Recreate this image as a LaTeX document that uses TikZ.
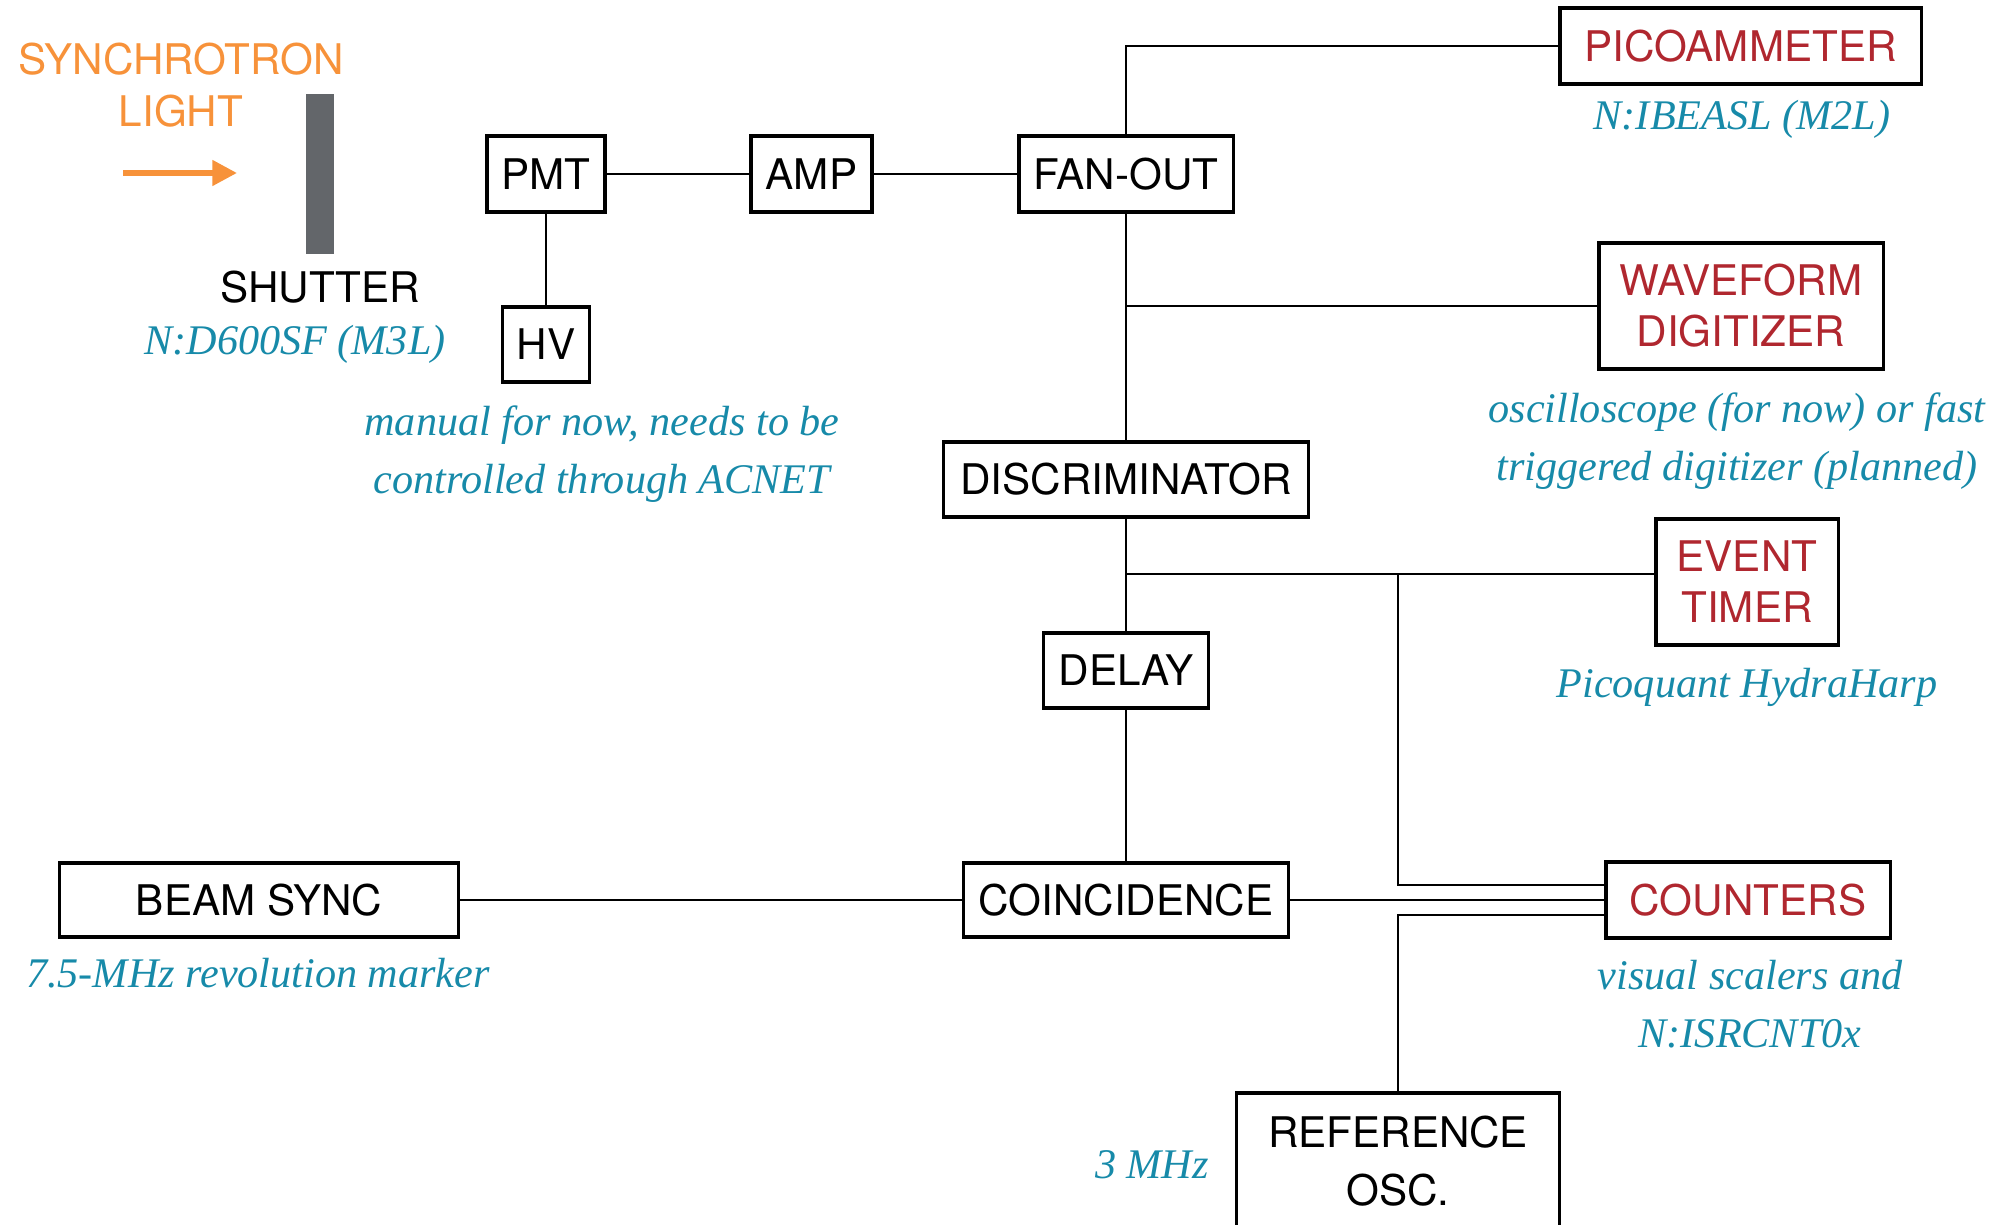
\documentclass[tikz,border=0pt]{standalone}
\usepackage{fontspec}
\setmainfont{TeX Gyre Heros}
\newfontfamily\notefont{Liberation Serif}
\usetikzlibrary{arrows.meta, positioning, calc}
\definecolor{beamorange}{HTML}{F7923A}
\definecolor{devred}{HTML}{B0272F}
\definecolor{noteblue}{HTML}{178AA9}
\definecolor{shuttergray}{HTML}{63666A}

\begin{document}
\begin{tikzpicture}[x=0.01cm, y=-0.01cm, line width=0.7pt,
  blk/.style={draw, line width=0.9pt, inner sep=0pt, align=center, font=\fontsize{12}{14.5}\selectfont},
  dev/.style={blk, text=devred},
  lbl/.style={inner sep=0pt, align=center, font=\fontsize{12}{14.8}\selectfont},
  note/.style={inner sep=0pt, align=center, text=noteblue, font=\notefont\itshape\fontsize{12}{16.5}\selectfont}]
\useasboundingbox (0,0) rectangle (2010,1225);

% light and shutter
\node[lbl, text=beamorange] (sync) at (181,85) {SYNCHROTRON\\LIGHT};
\coordinate (lightin) at (123,173);
\coordinate (lightout) at (237,173);
\draw[beamorange, line width=1.6pt, -{Triangle[length=7pt,width=7pt]}] (lightin) -- (lightout);
\node[fill=shuttergray, inner sep=0pt, minimum width=0.28cm, minimum height=1.6cm] (shutter) at (320,174) {};
\node[lbl, below=0.14cm of shutter] (shutterlbl) {SHUTTER};
\node[note, anchor=base] (shutternote) at (295,355) {N:D600SF (M3L)};

% detector chain
\node[blk, minimum width=1.18cm, minimum height=0.76cm] (pmt) at (546,174) {PMT};
\node[blk, minimum width=0.87cm, minimum height=0.75cm] (hv) at (546,344.5) {HV};
\node[note] (hvnote) at (602,454) {manual for now, needs to be\\controlled through ACNET};
\node[blk, minimum width=1.21cm, minimum height=0.76cm] (amp) at (811.5,174) {AMP};
\node[blk, minimum width=2.14cm, minimum height=0.76cm] (fanout) at (1126,174) {FAN-OUT};
\node[blk, minimum width=3.65cm, minimum height=0.75cm] (disc) at (1126,479.5) {DISCRIMINATOR};
\node[blk, minimum width=1.65cm, minimum height=0.75cm] (delay) at (1126,670.5) {DELAY};
\node[blk, minimum width=3.25cm, minimum height=0.74cm] (coinc) at (1126,900) {COINCIDENCE};
\node[blk, minimum width=3.98cm, minimum height=0.74cm] (beam) at (259,900) {BEAM SYNC};
\node[note, anchor=base] (beamnote) at (258,987) {7.5-MHz revolution marker};
\node[blk, minimum width=3.23cm, minimum height=1.36cm, font=\fontsize{12}{16.5}\selectfont] (ref) at (1398,1161) {REFERENCE\\OSC.};
\node[note, anchor=base east] (refnote) at (1210,1178) {3 MHz};

% readout devices
\node[dev, minimum width=3.61cm, minimum height=0.76cm] (pico) at (1740.5,46) {PICOAMMETER};
\node[note, anchor=base] (piconote) at (1742,130) {N:IBEASL (M2L)};
\node[dev, minimum width=2.84cm, minimum height=1.26cm] (wave) at (1741,306) {WAVEFORM\\DIGITIZER};
\node[note] (wavenote) at (1737,441) {oscilloscope (for now) or fast\\triggered digitizer (planned)};
\node[dev, minimum width=1.82cm, minimum height=1.26cm] (evt) at (1747,582) {EVENT\\TIMER};
\node[note, anchor=base] (evtnote) at (1747,697) {Picoquant HydraHarp};
\node[dev, minimum width=2.84cm, minimum height=0.76cm] (cnt) at (1748,900) {COUNTERS};
\node[note] (cntnote) at (1750,1004) {visual scalers and\\N:ISRCNT0x};

% connections
\coordinate (evtin) at ($(evt.west)+(0,-8)$);
\coordinate (cnttop) at ($(cnt.west)+(0,-15)$);
\coordinate (cntbot) at ($(cnt.west)+(0,15)$);
\draw (pmt) -- (hv);
\draw (pmt) -- (amp);
\draw (amp) -- (fanout);
\draw (fanout.north) |- (pico);
\draw (fanout) -- (disc);
\draw (fanout.south |- wave) -- (wave);
\draw (disc) |- (evtin);
\draw (disc) -- (delay);
\draw (delay) -- (coinc);
\draw (beam) -- (coinc);
\draw (coinc) -- (cnt);
\draw (evtin -| ref.north) |- (cnttop);
\draw (ref) |- (cntbot);
\end{tikzpicture}
\end{document}
